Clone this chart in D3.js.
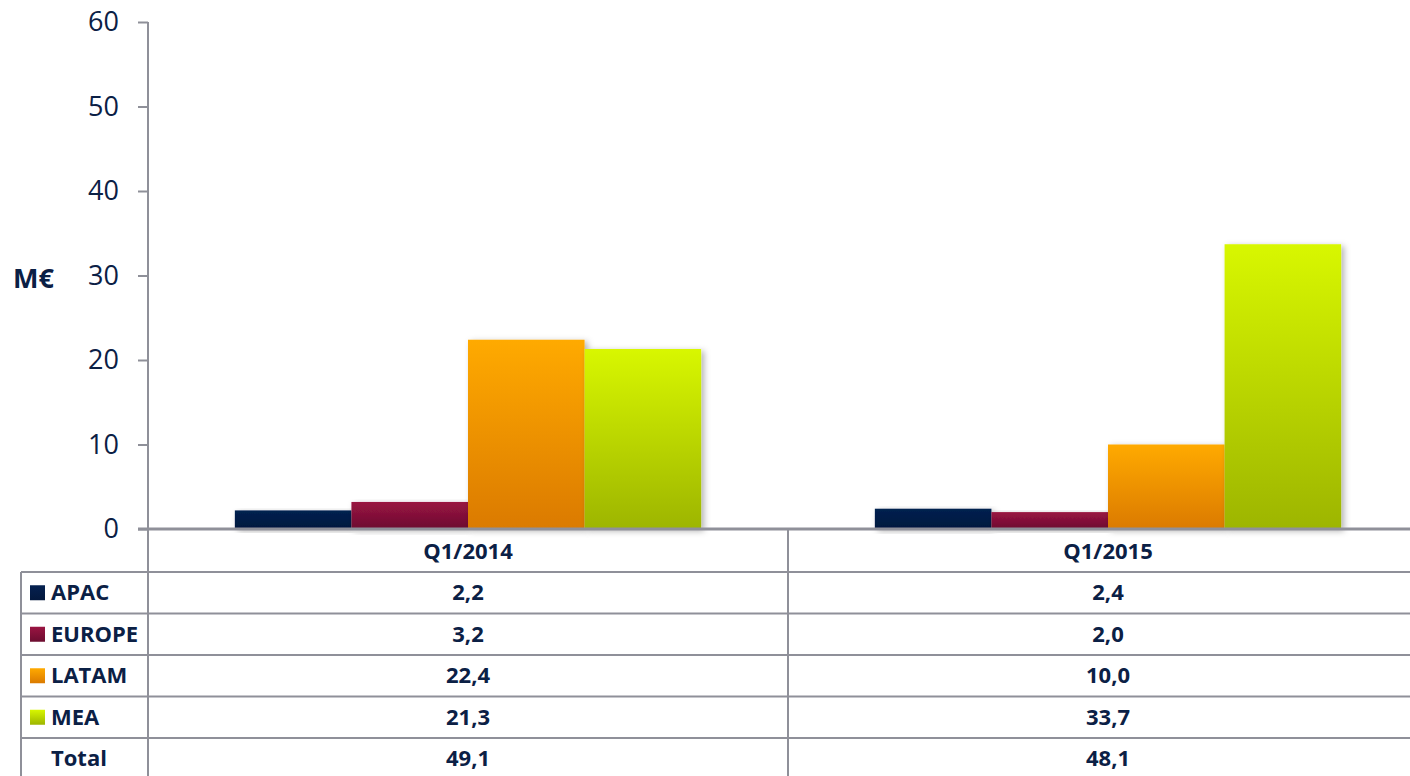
<!DOCTYPE html>
<html>
<head>
<meta charset="utf-8">
<script src="https://cdn.jsdelivr.net/npm/d3@7"></script>
<style>
  body { margin: 0; background: #fff; }
  svg { display: block; font-family: "Open Sans", sans-serif; }
</style>
</head>
<body>
<svg></svg>
<script>
const w = 1410
const h = 776

// data
const categories = ['Q1/2014', 'Q1/2015']
const seriesNames = ['APAC', 'EUROPE', 'LATAM', 'MEA']
const apac = [2.2, 2.4]
const europe = [3.2, 2.0]
const latam = [22.4, 10.0]
const mea = [21.3, 33.7]
const totals = [49.1, 48.1]
const yTicks = [0, 10, 20, 30, 40, 50, 60]

const seriesValues = [apac, europe, latam, mea]
const colors = [
  ['#052150', '#03183d'],
  ['#9a1442', '#6c0d30'],
  ['#ffaa00', '#db7a00'],
  ['#d8f700', '#9db500']
]
const textColor = '#0b2045'
const lineColor = '#8f9099'

const svg = d3.select('svg')
  .attr('width', w)
  .attr('height', h);

const defs = svg.append('defs')
colors.forEach((c, i) => {
  const lg = defs.append('linearGradient')
    .attr('id', 'grad' + i)
    .attr('x1', 0).attr('y1', 0).attr('x2', 0).attr('y2', 1)
  lg.append('stop').attr('offset', '0%').attr('stop-color', c[0])
  lg.append('stop').attr('offset', '100%').attr('stop-color', c[1])
})
defs.append('filter').attr('id', 'shadow')
  .attr('x', '-10%').attr('y', '-10%').attr('width', '130%').attr('height', '130%')
  .append('feDropShadow')
    .attr('dx', 3).attr('dy', 2).attr('stdDeviation', 3)
    .attr('flood-color', '#000').attr('flood-opacity', 0.3)

// scales
const xScale = d3.scaleBand()
  .domain(categories)
  .range([148, 1428])

const xInner = d3.scaleBand()
  .domain(seriesNames)
  .range([0, xScale.bandwidth()])
  .paddingOuter(0.745)

const yScale = d3.scaleLinear()
  .domain([0, 60])
  .range([529, 22])

// y axis
const yAxis = d3.axisLeft(yScale)
  .tickValues(yTicks)
  .tickSize(10)
  .tickPadding(19)

const yAxisG = svg.append('g')
  .attr('transform', 'translate(148,0)')
  .call(yAxis)
yAxisG.select('.domain').remove()
yAxisG.selectAll('.tick line')
  .attr('stroke', lineColor).attr('stroke-width', 2)
yAxisG.selectAll('.tick text')
  .attr('fill', textColor)
  .attr('font-size', 27)
  .attr('font-family', '"Open Sans", sans-serif')

svg.append('line')
  .attr('x1', 148).attr('x2', 148)
  .attr('y1', yScale(60)).attr('y2', h)
  .attr('stroke', lineColor).attr('stroke-width', 2)

svg.append('text')
  .attr('x', 13).attr('y', 279)
  .attr('dy', '0.35em')
  .attr('fill', textColor)
  .attr('font-size', 27)
  .attr('font-weight', 'bold')
  .text('M€')

// bars
const barData = []
categories.forEach((cat, ci) => {
  seriesNames.forEach((s, si) => {
    barData.push({cat, s, si, v: seriesValues[si][ci]})
  })
})

svg.append('g').selectAll('rect').data(barData)
  .enter().append('rect')
    .attr('x', d => xScale(d.cat) + xInner(d.s))
    .attr('y', d => yScale(d.v))
    .attr('width', xInner.bandwidth())
    .attr('height', d => yScale(0) - yScale(d.v))
    .attr('fill', d => `url(#grad${d.si})`)
    .attr('filter', 'url(#shadow)')

// zero line
svg.append('line')
  .attr('x1', 138).attr('x2', w)
  .attr('y1', yScale(0)).attr('y2', yScale(0))
  .attr('stroke', lineColor).attr('stroke-width', 3)

// data table
const rowNames = seriesNames.concat(['Total'])
const rowValues = seriesValues.concat([totals])
const rowH = 41.5
const tableTop = 529
const headerBottom = 572
const tableLeft = 21
const fmt = v => d3.format('.1f')(v).replace('.', ',')

const table = svg.append('g')

// header text
table.selectAll('.head').data(categories)
  .enter().append('text')
    .attr('x', d => xScale(d) + xScale.bandwidth() / 2)
    .attr('y', (tableTop + headerBottom) / 2 + 1)
    .attr('dy', '0.35em')
    .attr('text-anchor', 'middle')
    .attr('fill', textColor)
    .attr('font-size', 22)
    .attr('font-weight', 'bold')
    .text(d => d)

// horizontal lines
const hLines = d3.range(rowNames.length + 1).map(i => headerBottom + i * rowH)
table.selectAll('.hl').data(hLines)
  .enter().append('line')
    .attr('x1', tableLeft).attr('x2', w)
    .attr('y1', d => d).attr('y2', d => d)
    .attr('stroke', lineColor).attr('stroke-width', 2)

// vertical lines
table.append('line')
  .attr('x1', tableLeft).attr('x2', tableLeft)
  .attr('y1', headerBottom).attr('y2', h)
  .attr('stroke', lineColor).attr('stroke-width', 2)
table.append('line')
  .attr('x1', xScale(categories[1])).attr('x2', xScale(categories[1]))
  .attr('y1', tableTop).attr('y2', h)
  .attr('stroke', lineColor).attr('stroke-width', 2)

// row labels with legend keys
const rows = table.selectAll('.row').data(rowNames)
  .enter().append('g')
    .attr('transform', (d, i) => `translate(0, ${headerBottom + i * rowH + rowH / 2})`)

rows.filter((d, i) => i < seriesNames.length)
  .append('rect')
    .attr('x', 30).attr('y', -7.5)
    .attr('width', 15).attr('height', 15)
    .attr('fill', (d, i) => `url(#grad${i})`)

rows.append('text')
  .attr('x', 51)
  .attr('dy', '0.35em')
  .attr('fill', textColor)
  .attr('font-size', 22)
  .attr('font-weight', 'bold')
  .text(d => d)

rows.each(function(d, i) {
  d3.select(this).selectAll('.val').data(rowValues[i])
    .enter().append('text')
      .attr('x', (v, ci) => xScale(categories[ci]) + xScale.bandwidth() / 2)
      .attr('dy', '0.35em')
      .attr('text-anchor', 'middle')
      .attr('fill', textColor)
      .attr('font-size', 22)
      .attr('font-weight', 'bold')
      .text(v => fmt(v))
})
</script>
</body>
</html>
